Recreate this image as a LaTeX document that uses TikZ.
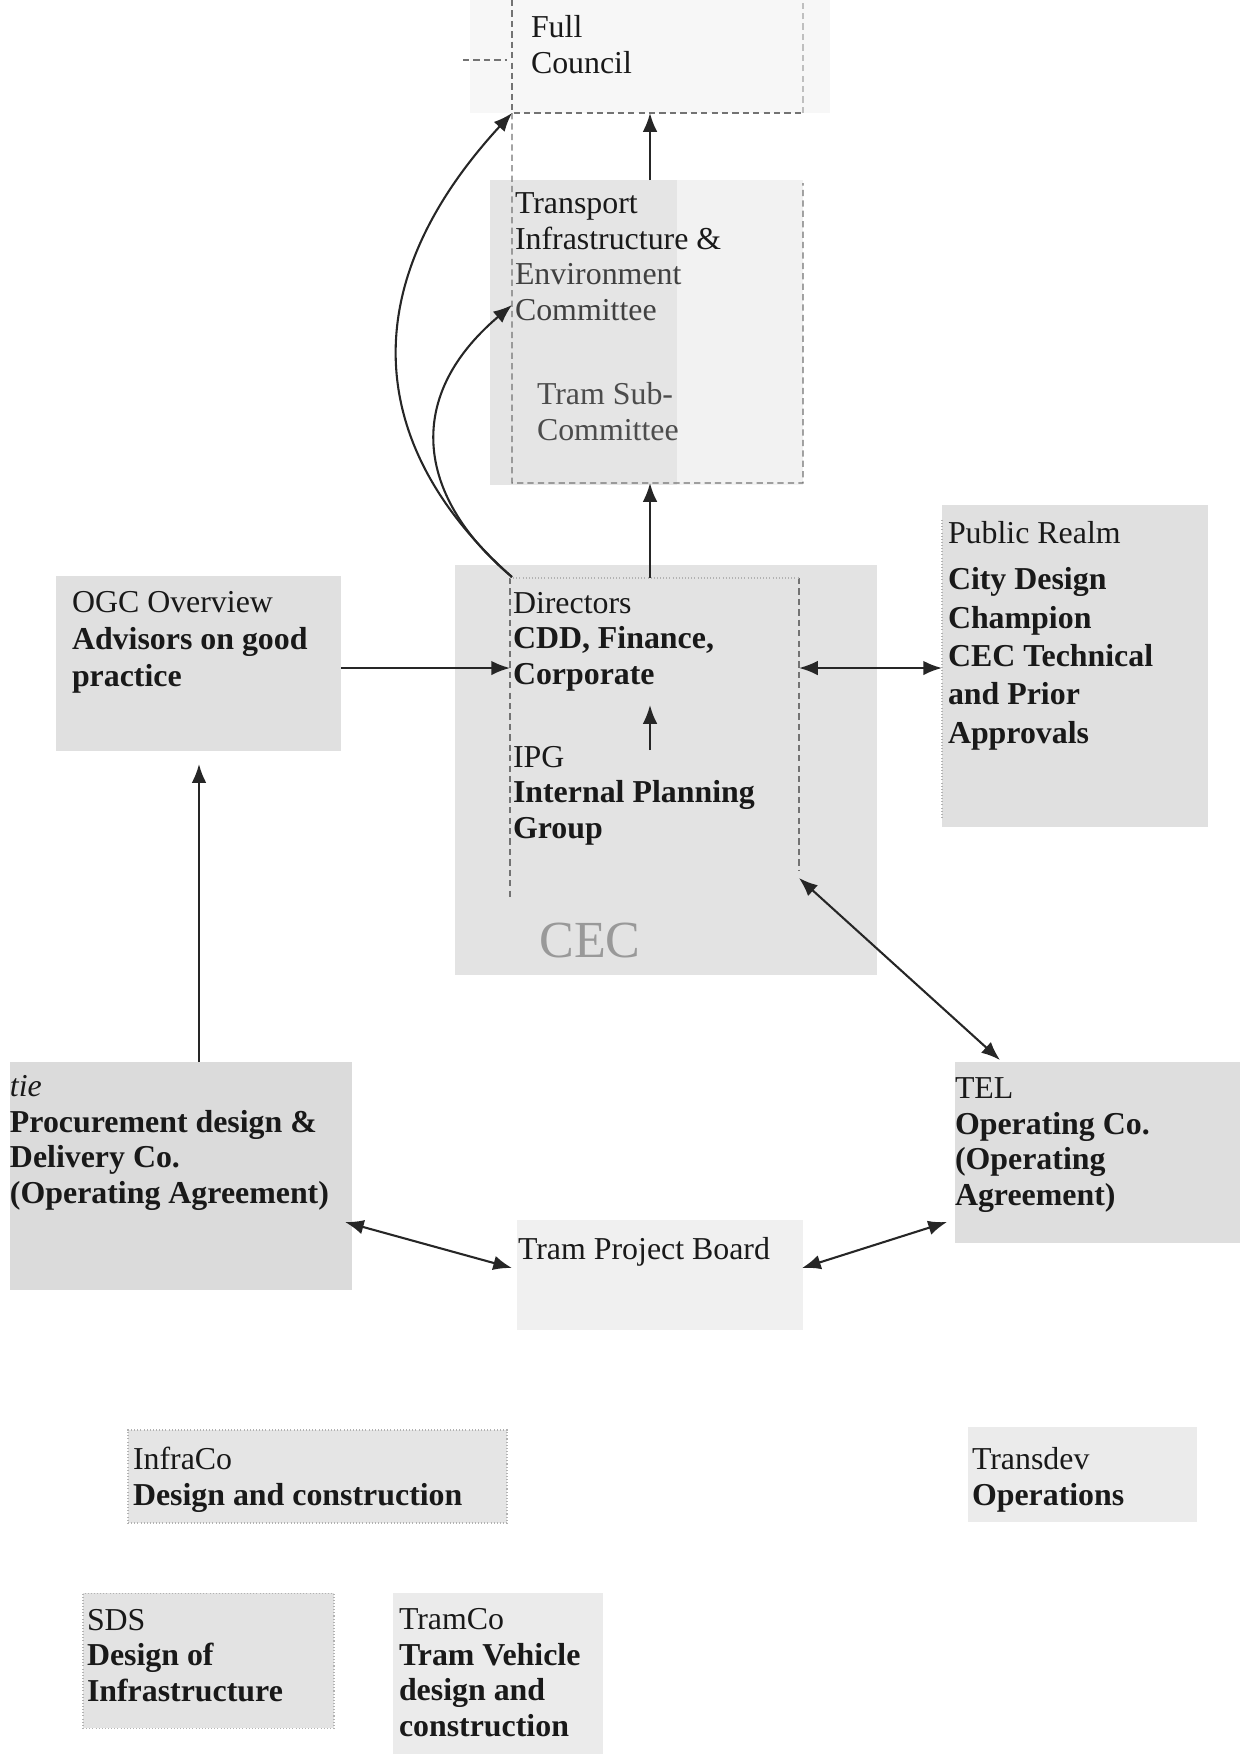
\documentclass[tikz,border=0pt]{standalone}
\usepackage{fontspec}
\setmainfont{Liberation Serif}
\usetikzlibrary{arrows.meta,fit}
\begin{document}
\begin{tikzpicture}[x=0.48pt,y=-0.48pt,
  shadebox/.style={inner sep=0pt,outer sep=0pt,draw=none},
  txt/.style={anchor=base west,inner sep=0pt,outer sep=0pt,align=left,
    font=\fontsize{15.3}{17}\selectfont,text=black!90},
  dline/.style={densely dashed,draw=black!55,line width=0.6pt},
  fline/.style={densely dotted,draw=black!30,line width=0.5pt},
  arr/.style={-{Latex[length=9pt,width=7pt]},line width=1pt,draw=black!85},
  darr/.style={{Latex[length=9pt,width=7pt]}-{Latex[length=9pt,width=7pt]},line width=1pt,draw=black!85}]
\useasboundingbox (0,0) rectangle (1240,1754);

% ---------- shaded regions ----------
\node[shadebox,fit={(470,0) (830,113)},fill=black!3] (fcbg) {};
\node[shadebox,fit={(677,180) (803,485)},fill=black!5] (tiecr) {};
\node[shadebox,fit={(490,180) (677,485)},fill=black!10] (tiec) {};
\node[shadebox,fit={(455,565) (877,975)},fill=black!11] (cec) {};
\node[shadebox,fit={(56,576) (341,751)},fill=black!12] (ogc) {};
\node[shadebox,fit={(942,505) (1208,827)},fill=black!12] (pr) {};
\node[shadebox,fit={(10,1062) (352,1290)},fill=black!14] (tie) {};
\node[shadebox,fit={(955,1062) (1240,1243)},fill=black!13] (tel) {};
\node[shadebox,fit={(517,1220) (803,1330)},fill=black!6] (tpb) {};
\node[shadebox,fit={(128,1430) (507,1523)},fill=black!10,fline] (infra) {};
\node[shadebox,fit={(968,1427) (1197,1522)},fill=black!8] (transdev) {};
\node[shadebox,fit={(83,1593) (334,1728)},fill=black!11,fline] (sds) {};
\node[shadebox,fit={(393,1593) (603,1754)},fill=black!8] (tramco) {};

% ---------- dashed frames ----------
\node[shadebox,fit={(512,0) (803,113)}] (fc) {};
\node[shadebox,fit={(512,113) (803,483)}] (cbox) {};
\node[shadebox,fit={(510,578) (799,900)}] (dbox) {};
\draw[dline] (fc.north west) -- (fc.south west) -- (fc.south east);
\draw[dline,draw=black!25] (fc.south east) -- (fc.north east);
\draw[dline] (463,60) -- (507,60);
\draw[dline] (cbox.north west) -- (cbox.south west) -- (cbox.south east) -- (803,183);
\draw[dline] (dbox.north west) -- (510,900);
\draw[dline] (799,578) -- (799,870);
\draw[fline] (dbox.north west) -- (799,578);
\draw[fline] (942,520) -- (942,820);

% ---------- texts (anchored at the baseline of the last line) ----------
\node[txt] (fct) at (531,73) {Full\\Council};
\node[txt] (tiet) at (515,320) {Transport\\Infrastructure \&\\\textcolor{black!75}{Environment}\\\textcolor{black!75}{Committee}};
\node[txt,text=black!70] (tsct) at (537,440) {Tram Sub-\\Committee};
\node[txt] (dirt) at (513,684) {Directors\\\textbf{CDD, Finance,}\\\textbf{Corporate}};
\node[txt] (ipgt) at (513,838) {IPG\\\textbf{Internal Planning}\\\textbf{Group}};
\node[anchor=base,inner sep=0pt,font=\fontsize{25}{28}\selectfont,text=black!40] (cect) at (590,957) {CEC};
\node[txt,font=\fontsize{15.3}{17.6}\selectfont] (ogct) at (72,686) {OGC Overview\\\textbf{Advisors on good}\\\textbf{practice}};
\node[txt,font=\fontsize{15.3}{18.4}\selectfont] (prt) at (948,743) {Public Realm\\[3.6pt]\textbf{City Design}\\\textbf{Champion}\\\textbf{CEC Technical}\\\textbf{and Prior}\\\textbf{Approvals}};
\node[txt] (tiett) at (10,1203) {\textit{tie}\\\textbf{Procurement design \&}\\\textbf{Delivery Co.}\\\textbf{(Operating Agreement)}};
\node[txt] (telt) at (955,1205) {TEL\\\textbf{Operating Co.}\\\textbf{(Operating}\\\textbf{Agreement)}};
\node[txt] (tpbt) at (518,1259) {Tram Project Board};
\node[txt] (infrat) at (133,1505) {InfraCo\\\textbf{Design and construction}};
\node[txt] (transdevt) at (972,1505) {Transdev\\\textbf{Operations}};
\node[txt] (sdst) at (87,1701) {SDS\\\textbf{Design of}\\\textbf{Infrastructure}};
\node[txt] (tramcot) at (399,1736) {TramCo\\\textbf{Tram Vehicle}\\\textbf{design and}\\\textbf{construction}};

% ---------- connector end points ----------
\coordinate (axis) at (650,0);
\coordinate (y668) at (0,668);
\coordinate (x199) at (199,0);
\coordinate (ipgtop) at (650,750);
\coordinate (dirbot) at (650,705);
\coordinate (ogcarr) at (199,764);
\coordinate (dirse) at (799,878);
\coordinate (telnw) at (1000,1060);
\coordinate (tiee) at (345,1222);
\coordinate (tpbw) at (512,1268);
\coordinate (tpbe) at (802,1268);
\coordinate (telw) at (947,1222);
\coordinate (dirnw) at (512,577);
\coordinate (cwest) at (512,305);

% ---------- connectors ----------
\draw[arr] (tiec.north -| axis) -- (fc.south -| axis);
\draw[arr] (dbox.north -| axis) -- (cbox.south -| axis);
\draw[arr] (ipgtop) -- (dirbot);
\draw[arr] (ogc.east |- y668) -- (dbox.west |- y668);
\draw[darr] (dbox.east |- y668) -- (pr.west |- y668);
\draw[arr] (tie.north -| x199) -- (ogcarr);
\draw[darr] (dirse) -- (telnw);
\draw[darr] (tiee) -- (tpbw);
\draw[darr] (tpbe) -- (telw);
\draw[arr] (dirnw) .. controls (380,460) and (340,300) .. (fc.south west);
\draw[arr] (dirnw) .. controls (420,500) and (400,400) .. (cwest);
\end{tikzpicture}
\end{document}
